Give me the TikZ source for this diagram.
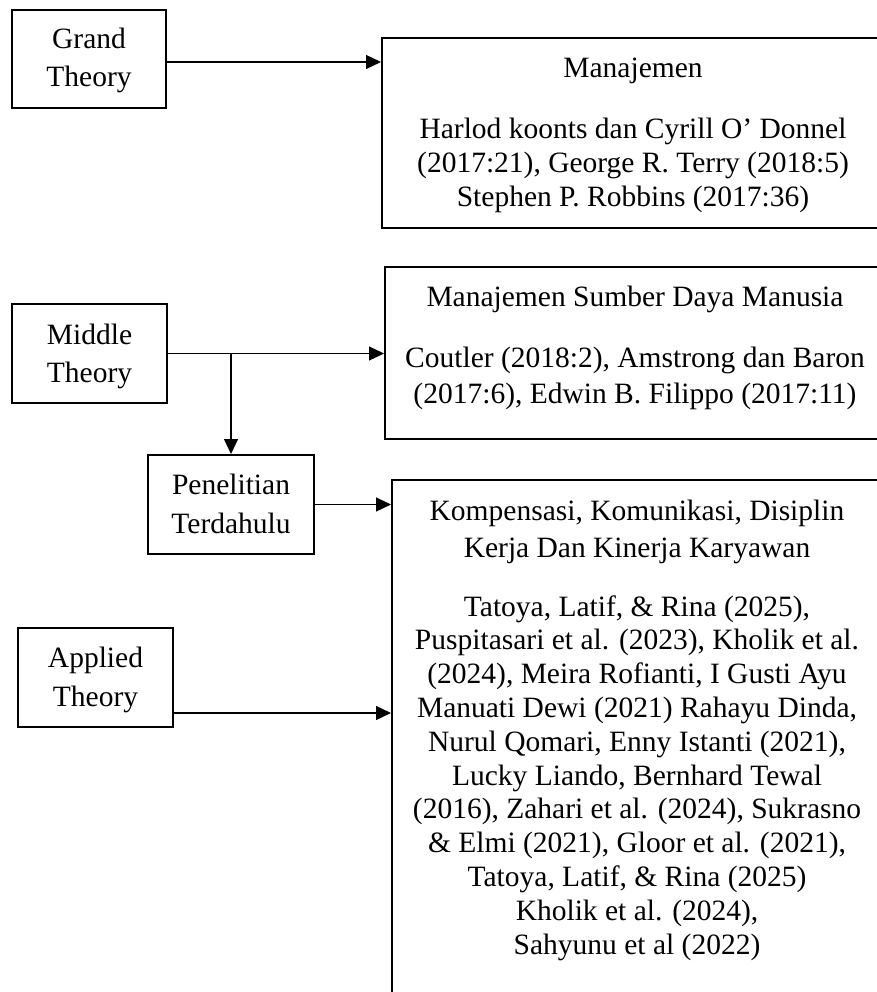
\documentclass[tikz,border=0pt]{standalone}
\usepackage{fontspec}
\setmainfont{Liberation Serif}
\usetikzlibrary{arrows.meta}
\begin{document}
\begin{tikzpicture}[x=1pt,y=-1pt,
  box/.style={draw=black, line width=2pt, inner sep=0pt},
  arr/.style={line width=1.2pt, -{Triangle[length=15pt,width=14pt]}},
  lbl/.style={align=center, inner sep=0pt, anchor=base},
  fs/.style={font=\fontsize{29.5}{#1}\selectfont}
]
\useasboundingbox (0,0) rectangle (877,992);
% boxes
\node[box, minimum width=154pt, minimum height=98pt] (grand) at (89,59) {};
\node[box, minimum width=155pt, minimum height=99pt] (mid) at (89.5,353.5) {};
\node[box, minimum width=166pt, minimum height=99pt] (pen) at (231,504.5) {};
\node[box, minimum width=155pt, minimum height=99pt] (app) at (95.5,677.5) {};
\node[box, minimum width=502pt, minimum height=190pt] (man) at (633,133) {};
\node[box, minimum width=500pt, minimum height=172pt] (msdm) at (635,353) {};
\node[box, minimum width=490pt, minimum height=520pt] (komp) at (637,740) {};
% labels (base anchor = baseline of the last line)
\node[lbl, fs=38] (grandT) at (89,87) {Grand\\Theory};
\node[lbl, fs=38] (midT) at (89.5,382) {Middle\\Theory};
\node[lbl, fs=39] (penT) at (231,533) {Penelitian\\Terdahulu};
\node[lbl, fs=39] (appT) at (95.5,706) {Applied\\Theory};
\node[lbl, fs=34] (manT) at (633,78) {Manajemen};
\node[lbl, fs=34] (manB) at (633,207) {Harlod koonts dan Cyrill O’ Donnel\\(2017:21), George R. Terry (2018:5)\\Stephen P. Robbins (2017:36)};
\node[lbl, fs=36] (msdmT) at (635,306) {Manajemen Sumber Daya Manusia};
\node[lbl, fs=36] (msdmB) at (635,403) {Coutler (2018:2), Amstrong dan Baron\\(2017:6), Edwin B. Filippo (2017:11)};
\node[lbl, fs=37] (kompT) at (637,557) {Kompensasi, Komunikasi, Disiplin\\Kerja Dan Kinerja Karyawan};
\node[lbl, fs=33.8] (kompB) at (637,954) {Tatoya, Latif, \& Rina (2025),\\Puspitasari et al. (2023), Kholik et al.\\(2024), Meira Rofianti, I Gusti Ayu\\Manuati Dewi (2021) Rahayu Dinda,\\Nurul Qomari, Enny Istanti (2021),\\Lucky Liando, Bernhard Tewal\\(2016), Zahari et al. (2024), Sukrasno\\\& Elmi (2021), Gloor et al. (2021),\\Tatoya, Latif, \& Rina (2025)\\Kholik et al. (2024),\\Sahyunu et al (2022)};
% connectors
\draw[arr] ([yshift=-3pt]grand.east) -- ([yshift=-3pt]grand.east -| man.west);
\draw[arr] (mid.east) -- (mid.east -| msdm.west);
\draw[arr] (mid.east -| pen.north) -- (pen.north);
\draw[arr] (pen.east) -- (pen.east -| komp.west);
\draw[arr] ([yshift=-35.5pt]app.east) -- ([yshift=-35.5pt]app.east -| komp.west);
\end{tikzpicture}
\end{document}
